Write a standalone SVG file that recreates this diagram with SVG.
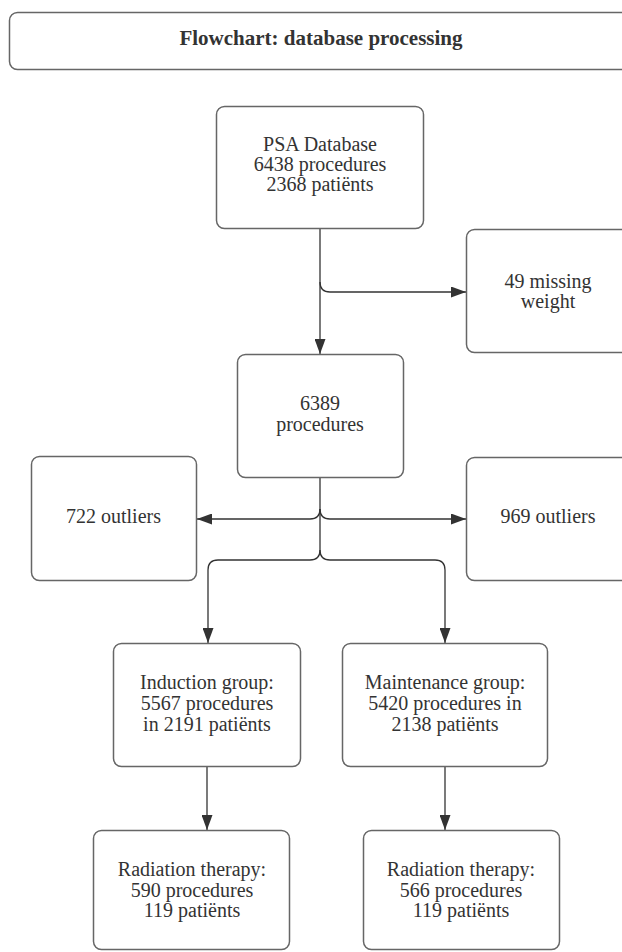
<svg xmlns="http://www.w3.org/2000/svg" width="622" height="952" viewBox="0 0 622 952">
<defs>
<style>
.box{fill:#fff;stroke:#666;stroke-width:1.5}
.t{font-family:'Liberation Serif','DejaVu Serif','Times New Roman',serif;font-size:20px;fill:#333;text-anchor:middle}
.title{font-family:'Liberation Serif','DejaVu Serif','Times New Roman',serif;font-size:21px;font-weight:bold;fill:#333;text-anchor:middle}
.c{fill:none;stroke:#333;stroke-width:1.3}
</style>
<marker id="ah" markerUnits="userSpaceOnUse" markerWidth="15" markerHeight="11" refX="15" refY="5.5" orient="auto">
<path d="M0,0 L15,5.5 L0,11 z" fill="#333"/>
</marker>
</defs>
<rect width="622" height="952" fill="#fff"/>
<g id="title">
<rect class="box" x="9.5" y="12.5" width="640" height="57" rx="8"/>
<text class="title" x="321" y="45">Flowchart: database processing</text>
</g>
<g id="connectors">
<path class="c" d="M320,229 L320,354" marker-end="url(#ah)"/>
<path class="c" d="M320,282 Q320,292 330,292 L466,292" marker-end="url(#ah)"/>
<path class="c" d="M320,478 L320,550"/>
<path class="c" d="M320,509 Q320,519 310,519 L197,519" marker-end="url(#ah)"/>
<path class="c" d="M320,509 Q320,519 330,519 L466,519" marker-end="url(#ah)"/>
<path class="c" d="M320,550 Q320,560 310,560 L218,560 Q208,560 208,570 L208,643" marker-end="url(#ah)"/>
<path class="c" d="M320,550 Q320,560 330,560 L435,560 Q445,560 445,570 L445,643" marker-end="url(#ah)"/>
<path class="c" d="M207,767 L207,830" marker-end="url(#ah)"/>
<path class="c" d="M445,767 L445,830" marker-end="url(#ah)"/>
</g>
<g id="psa">
<rect class="box" x="216.5" y="106.5" width="207" height="122" rx="8"/>
<text class="t" x="320" y="150.5">PSA Database</text>
<text class="t" x="320" y="171">6438 procedures</text>
<text class="t" x="320" y="191">2368 patiënts</text>
</g>
<g id="missing">
<rect class="box" x="466.5" y="229.5" width="170" height="123" rx="8"/>
<text class="t" x="548" y="288">49 missing</text>
<text class="t" x="548" y="308">weight</text>
</g>
<g id="proc6389">
<rect class="box" x="237.5" y="354.5" width="166" height="123" rx="8"/>
<text class="t" x="320" y="410">6389</text>
<text class="t" x="320" y="431">procedures</text>
</g>
<g id="out722">
<rect class="box" x="31.5" y="456.5" width="165" height="124" rx="8"/>
<text class="t" x="113.5" y="523">722 outliers</text>
</g>
<g id="out969">
<rect class="box" x="466.5" y="457.5" width="170" height="123" rx="8"/>
<text class="t" x="548" y="523">969 outliers</text>
</g>
<g id="induction">
<rect class="box" x="113.5" y="643.5" width="187" height="123" rx="8"/>
<text class="t" x="207" y="689">Induction group:</text>
<text class="t" x="207" y="710">5567 procedures</text>
<text class="t" x="207" y="731">in 2191 patiënts</text>
</g>
<g id="maintenance">
<rect class="box" x="342.5" y="643.5" width="205" height="123" rx="8"/>
<text class="t" x="445" y="689">Maintenance group:</text>
<text class="t" x="445" y="710">5420 procedures in</text>
<text class="t" x="445" y="731">2138 patiënts</text>
</g>
<g id="rad1">
<rect class="box" x="93.5" y="830.5" width="196" height="119" rx="8"/>
<text class="t" x="192" y="876">Radiation therapy:</text>
<text class="t" x="192" y="897">590 procedures</text>
<text class="t" x="192" y="917">119 patiënts</text>
</g>
<g id="rad2">
<rect class="box" x="363.5" y="830.5" width="196" height="119" rx="8"/>
<text class="t" x="461" y="876">Radiation therapy:</text>
<text class="t" x="461" y="897">566 procedures</text>
<text class="t" x="461" y="917">119 patiënts</text>
</g>
</svg>
